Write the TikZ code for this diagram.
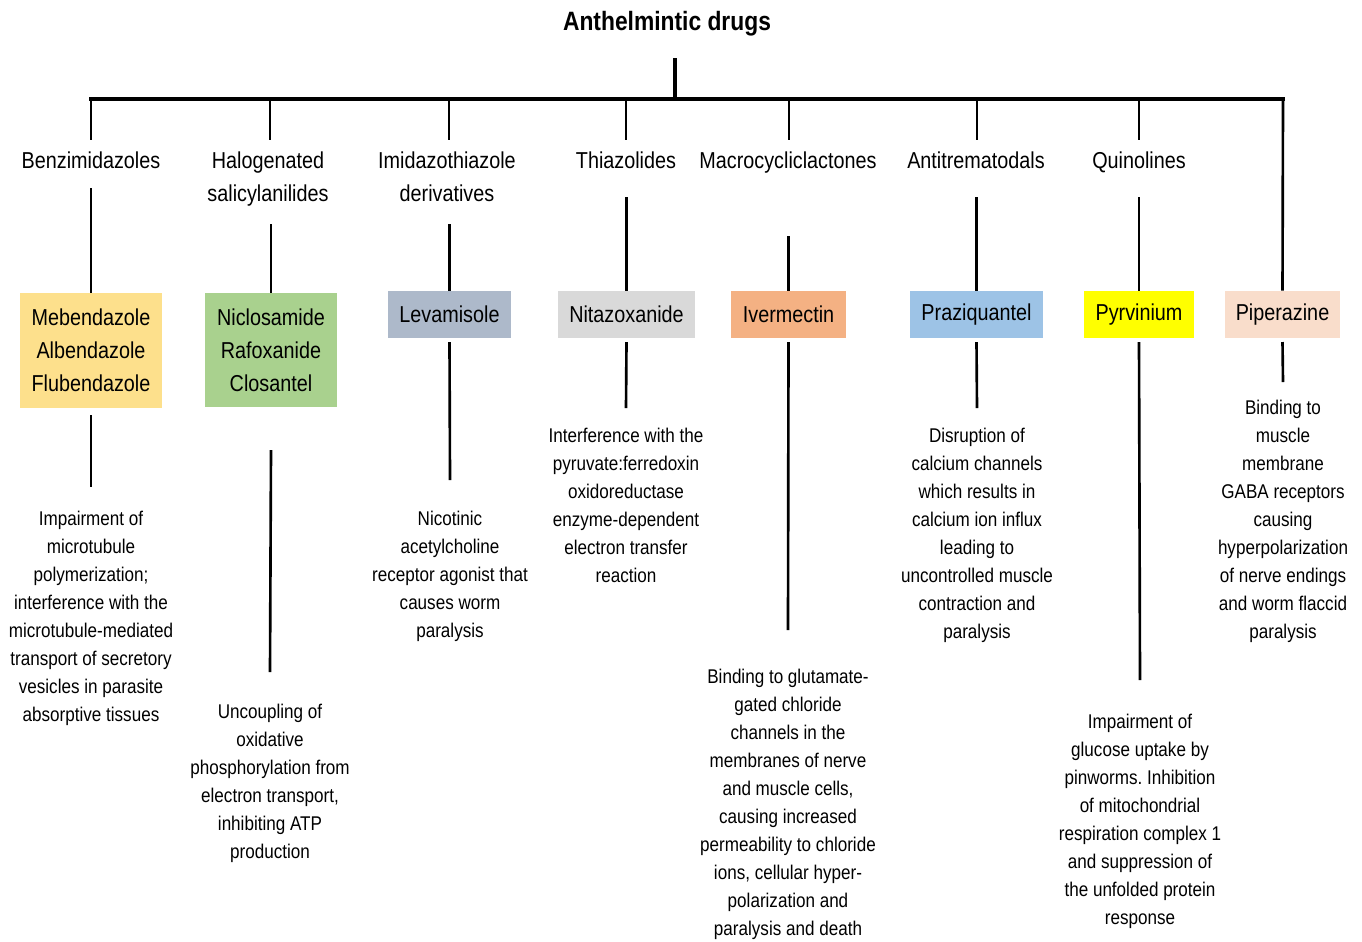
\documentclass[tikz,border=0pt]{standalone}
\usepackage{fontspec}
\setmainfont{Liberation Sans}[FakeStretch=0.86]
\usetikzlibrary{calc}
\frenchspacing
\definecolor{cMebendazole}{RGB}{253,224,140}
\definecolor{cNiclosamide}{RGB}{169,209,142}
\definecolor{cLevamisole}{RGB}{173,185,202}
\definecolor{cNitazoxanide}{RGB}{217,217,217}
\definecolor{cIvermectin}{RGB}{244,177,131}
\definecolor{cPraziquantel}{RGB}{157,195,230}
\definecolor{cPyrvinium}{RGB}{255,255,0}
\definecolor{cPiperazine}{RGB}{249,221,203}

\begin{document}
\begin{tikzpicture}[x=0.02cm, y=-0.02cm,
    every node/.style={inner sep=0pt},
    cls/.style={font=\fontsize{13.1}{18.8}\selectfont, align=center, anchor=north},
    drug/.style={font=\fontsize{13.1}{18.8}\selectfont, align=center, minimum height=0.94cm},
    note/.style={font=\fontsize{11.3}{15.95}\selectfont, align=center, anchor=north},
    link/.style={line width=1.5pt},
    trunk/.style={line width=2.3pt, line cap=rect}]
\useasboundingbox (0,0) rectangle (1362,941);

% title and main bar
\node[font=\bfseries\fontsize{15.1}{18}\selectfont] (title) at (667,23.5) {Anthelmintic drugs};
\coordinate (root) at (675,99);
\coordinate (rootTop) at (675,60);
\draw[trunk] (rootTop) -- (root);
\foreach \i/\x in {1/91,2/270,3/449,4/626,5/789,6/977,7/1139,8/1283}
  \coordinate (d\i) at (\x,99);
\draw[trunk] (d1) -- (d8);

% drug classes
\node[cls] (cls1) at (91,151) {Benzimidazoles};
\node[cls] (cls2) at (268,151) {Halogenated\\salicylanilides};
\node[cls] (cls3) at (447,151) {Imidazothiazole\\derivatives};
\node[cls] (cls4) at (626,151) {Thiazolides};
\node[cls] (cls5) at (788,151) {Macrocycliclactones};
\node[cls] (cls6) at (976,151) {Antitrematodals};
\node[cls] (cls7) at (1139,151) {Quinolines};

% drugs
\node[drug, fill=cMebendazole, minimum width=2.84cm, minimum height=2.3cm] (box1) at (91,350.5) {Mebendazole\\Albendazole\\Flubendazole};
\node[drug, fill=cNiclosamide, minimum width=2.64cm, minimum height=2.28cm] (box2) at (271,350) {Niclosamide\\Rafoxanide\\Closantel};
\node[drug, fill=cLevamisole, minimum width=2.46cm] (box3) at (449.5,314.5) {Levamisole};
\node[drug, fill=cNitazoxanide, minimum width=2.74cm] (box4) at (626.5,314.5) {Nitazoxanide};
\node[drug, fill=cIvermectin, minimum width=2.3cm] (box5) at (788.5,314.5) {Ivermectin};
\node[drug, fill=cPraziquantel, minimum width=2.66cm] (box6) at (976.5,314.5) {Praziquantel};
\node[drug, fill=cPyrvinium, minimum width=2.2cm] (box7) at (1139,314.5) {Pyrvinium};
\node[drug, fill=cPiperazine, minimum width=2.3cm] (box8) at (1282.5,314.5) {Piperazine};

% mechanisms
\node[note] (note1) at (91,511) {Impairment of\\microtubule\\polymerization;\\interference with the\\microtubule-mediated\\transport of secretory\\vesicles in parasite\\absorptive tissues};
\node[note] (note2) at (270,704) {Uncoupling of\\oxidative\\phosphorylation from\\electron transport,\\inhibiting ATP\\production};
\node[note] (note3) at (450,511) {Nicotinic\\acetylcholine\\receptor agonist that\\causes worm\\paralysis};
\node[note] (note4) at (626,428) {Interference with the\\pyruvate:ferredoxin\\oxidoreductase\\enzyme-dependent\\electron transfer\\reaction};
\node[note] (note5) at (788,669) {Binding to glutamate-\\gated chloride\\channels in the\\membranes of nerve\\and muscle cells,\\causing increased\\permeability to chloride\\ions, cellular hyper-\\polarization and\\paralysis and death};
\node[note] (note6) at (977,428) {Disruption of\\calcium channels\\which results in\\calcium ion influx\\leading to\\uncontrolled muscle\\contraction and\\paralysis};
\node[note] (note7) at (1140,714) {Impairment of\\glucose uptake by\\pinworms. Inhibition\\of mitochondrial\\respiration complex 1\\and suppression of\\the unfolded protein\\response};
\node[note] (note8) at (1283,400) {Binding to\\muscle\\membrane\\GABA receptors\\causing\\hyperpolarization\\of nerve endings\\and worm flaccid\\paralysis};

% connectors
\foreach \i in {1,...,7}
  \draw[link, shorten >=0.22cm] (d\i) -- (d\i |- cls\i.north);
\draw[link] (d8) -- (box8.north);
\foreach \i/\y in {1/188,2/224,3/224,4/197,5/236,6/197,7/197}
  \draw[link] (box\i.north |- 0,\y) -- (box\i.north);
\foreach \i/\a/\b in {1/415/487,2/450/672,3/342/480,4/342/408,5/342/630,6/342/408,7/342/680,8/342/382}
  \draw[link] (box\i.south |- 0,\a) -- (note\i.north |- 0,\b);
\end{tikzpicture}
\end{document}
